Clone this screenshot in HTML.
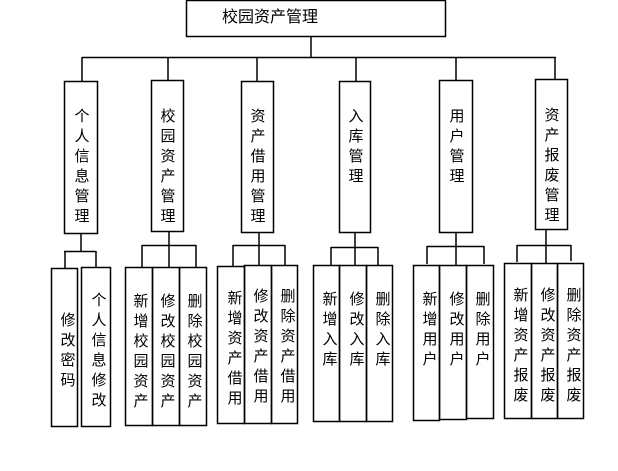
<!DOCTYPE html>
<html><head><meta charset="utf-8"><style>
html,body{margin:0;padding:0;background:#fff;}
svg{display:block;}
text{font-family:"Liberation Sans","Noto Sans CJK SC","WenQuanYi Zen Hei",sans-serif;font-size:15px;fill:#000;text-anchor:middle;}
</style></head><body>
<svg width="618" height="471" viewBox="0 0 618 471" xmlns="http://www.w3.org/2000/svg">
<g fill="none" stroke="#000" stroke-width="1.5">
<rect x="186.5" y="0.5" width="259" height="36"/>
<line x1="311" y1="36" x2="311" y2="58"/>
<line x1="82" y1="57.5" x2="556" y2="57.5"/>
<line x1="82" y1="57" x2="82" y2="81"/>
<line x1="168" y1="57" x2="168" y2="80"/>
<line x1="257" y1="57" x2="257" y2="81"/>
<line x1="356" y1="57" x2="356" y2="81"/>
<line x1="456" y1="57" x2="456" y2="80"/>
<line x1="555" y1="57" x2="555" y2="79"/>
<rect x="64.5" y="81.5" width="33" height="152"/>
<rect x="151.5" y="80.5" width="32" height="151"/>
<rect x="241.5" y="81.5" width="32" height="151"/>
<rect x="339.5" y="81.5" width="31" height="151"/>
<rect x="439.5" y="80.5" width="33" height="152"/>
<rect x="535.5" y="79.5" width="32" height="150"/>
<!-- group1 -->
<line x1="81" y1="233" x2="81" y2="251"/>
<line x1="64" y1="251.5" x2="96" y2="251.5"/>
<line x1="65" y1="251" x2="65" y2="268"/>
<line x1="96" y1="251" x2="96" y2="267"/>
<rect x="51.5" y="268.5" width="26" height="158"/>
<rect x="81.5" y="267.5" width="29" height="159"/>
<!-- group2 -->
<line x1="169" y1="231" x2="169" y2="267"/>
<line x1="142" y1="245.5" x2="196" y2="245.5"/>
<line x1="142" y1="245" x2="142" y2="267"/>
<line x1="196" y1="245" x2="196" y2="267"/>
<rect x="125.5" y="267.5" width="27" height="158"/>
<rect x="152.5" y="267.5" width="27" height="158"/>
<rect x="179.5" y="267.5" width="27" height="158"/>
<!-- group3 -->
<line x1="259" y1="232" x2="259" y2="265"/>
<line x1="233" y1="245.5" x2="285" y2="245.5"/>
<line x1="233" y1="245" x2="233" y2="266"/>
<line x1="285" y1="245" x2="285" y2="265"/>
<rect x="217.5" y="266.5" width="27" height="157"/>
<rect x="244.5" y="265.5" width="27" height="158"/>
<rect x="271.5" y="265.5" width="26" height="158"/>
<!-- group4 -->
<line x1="355" y1="232" x2="355" y2="265"/>
<line x1="331" y1="247.5" x2="378" y2="247.5"/>
<line x1="331" y1="247" x2="331" y2="265"/>
<line x1="378" y1="247" x2="378" y2="265"/>
<rect x="313.5" y="265.5" width="26" height="156"/>
<rect x="339.5" y="265.5" width="27" height="156"/>
<rect x="366.5" y="265.5" width="26" height="156"/>
<!-- group5 -->
<line x1="456" y1="232" x2="456" y2="265"/>
<line x1="427" y1="246.5" x2="484" y2="246.5"/>
<line x1="427" y1="246" x2="427" y2="264"/>
<line x1="484" y1="246" x2="484" y2="264"/>
<rect x="413.5" y="265.5" width="26" height="155"/>
<rect x="439.5" y="265.5" width="27" height="154"/>
<rect x="466.5" y="265.5" width="27" height="153"/>
<!-- group6 -->
<line x1="546" y1="229" x2="546" y2="263"/>
<line x1="517" y1="245.5" x2="571" y2="245.5"/>
<line x1="517" y1="245" x2="517" y2="262"/>
<line x1="571" y1="245" x2="571" y2="261"/>
<rect x="504.5" y="263.5" width="27" height="155"/>
<rect x="531.5" y="263.5" width="26" height="155"/>
<rect x="557.5" y="263.5" width="26" height="155"/>
</g>
<text x="270" y="22" style="font-size:16px">校园资产管理</text>
<g>
<text x="82" y="121">个</text><text x="82" y="141">人</text><text x="82" y="161">信</text><text x="82" y="181">息</text><text x="82" y="201">管</text><text x="82" y="221">理</text>
<text x="168" y="121">校</text><text x="168" y="141">园</text><text x="168" y="161">资</text><text x="168" y="181">产</text><text x="168" y="201">管</text><text x="168" y="221">理</text>
<text x="258" y="121">资</text><text x="258" y="141">产</text><text x="258" y="161">借</text><text x="258" y="181">用</text><text x="258" y="201">管</text><text x="258" y="221">理</text>
<text x="356" y="121">入</text><text x="356" y="141">库</text><text x="356" y="161">管</text><text x="356" y="181">理</text>
<text x="457" y="121">用</text><text x="457" y="141">户</text><text x="457" y="161">管</text><text x="457" y="181">理</text>
<text x="552" y="120">资</text><text x="552" y="140">产</text><text x="552" y="160">报</text><text x="552" y="180">废</text><text x="552" y="200">管</text><text x="552" y="220">理</text>

<text x="68" y="325">修</text><text x="68" y="345">改</text><text x="68" y="365">密</text><text x="68" y="385">码</text>
<text x="99" y="305">个</text><text x="99" y="325">人</text><text x="99" y="345">信</text><text x="99" y="365">息</text><text x="99" y="385">修</text><text x="99" y="405">改</text>

<text x="141" y="306">新</text><text x="141" y="326">增</text><text x="141" y="346">校</text><text x="141" y="366">园</text><text x="141" y="386">资</text><text x="141" y="406">产</text>
<text x="168" y="306">修</text><text x="168" y="326">改</text><text x="168" y="346">校</text><text x="168" y="366">园</text><text x="168" y="386">资</text><text x="168" y="406">产</text>
<text x="195" y="306">删</text><text x="195" y="326">除</text><text x="195" y="346">校</text><text x="195" y="366">园</text><text x="195" y="386">资</text><text x="195" y="406">产</text>

<text x="235" y="303">新</text><text x="235" y="323">增</text><text x="235" y="343">资</text><text x="235" y="363">产</text><text x="235" y="383">借</text><text x="235" y="403">用</text>
<text x="261" y="301">修</text><text x="261" y="321">改</text><text x="261" y="341">资</text><text x="261" y="361">产</text><text x="261" y="381">借</text><text x="261" y="401">用</text>
<text x="288" y="301">删</text><text x="288" y="321">除</text><text x="288" y="341">资</text><text x="288" y="361">产</text><text x="288" y="381">借</text><text x="288" y="401">用</text>

<text x="330" y="304">新</text><text x="330" y="324">增</text><text x="330" y="344">入</text><text x="330" y="364">库</text>
<text x="357" y="304">修</text><text x="357" y="324">改</text><text x="357" y="344">入</text><text x="357" y="364">库</text>
<text x="383" y="304">删</text><text x="383" y="324">除</text><text x="383" y="344">入</text><text x="383" y="364">库</text>

<text x="430" y="304">新</text><text x="430" y="324">增</text><text x="430" y="344">用</text><text x="430" y="364">户</text>
<text x="457" y="304">修</text><text x="457" y="324">改</text><text x="457" y="344">用</text><text x="457" y="364">户</text>
<text x="483" y="304">删</text><text x="483" y="324">除</text><text x="483" y="344">用</text><text x="483" y="364">户</text>

<text x="521" y="300">新</text><text x="521" y="320">增</text><text x="521" y="340">资</text><text x="521" y="360">产</text><text x="521" y="380">报</text><text x="521" y="400">废</text>
<text x="548" y="300">修</text><text x="548" y="320">改</text><text x="548" y="340">资</text><text x="548" y="360">产</text><text x="548" y="380">报</text><text x="548" y="400">废</text>
<text x="574" y="300">删</text><text x="574" y="320">除</text><text x="574" y="340">资</text><text x="574" y="360">产</text><text x="574" y="380">报</text><text x="574" y="400">废</text>
</g>
</svg>
</body></html>
